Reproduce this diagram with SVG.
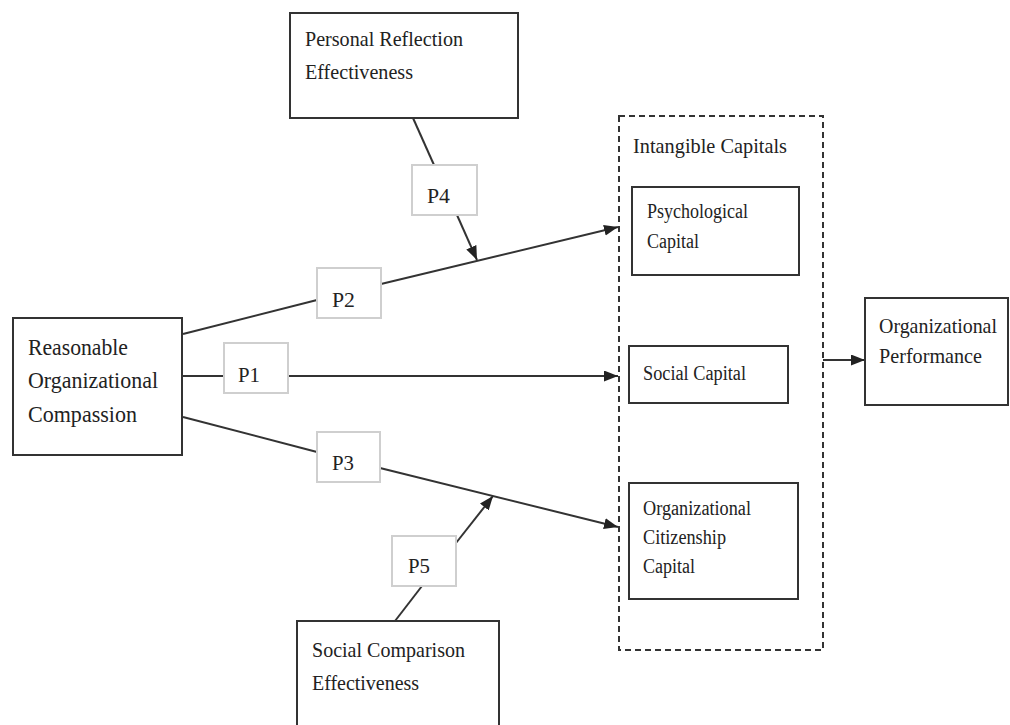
<svg xmlns="http://www.w3.org/2000/svg" width="1010" height="725" viewBox="0 0 1010 725">
  <defs>
    <marker id="arrow" markerUnits="userSpaceOnUse" markerWidth="15" markerHeight="12" refX="14" refY="5.5" orient="auto">
      <path d="M0,0 L14,5.5 L0,11 z" fill="#222"/>
    </marker>
    <style>
      .node { fill: #fff; stroke: #333; stroke-width: 2; }
      .plabel { fill: #fff; stroke: #cfcfcf; stroke-width: 2; }
      .group { fill: none; stroke: #333; stroke-width: 2; stroke-dasharray: 6 4; }
      .conn { stroke: #333; stroke-width: 2; fill: none; }
      .arr { marker-end: url(#arrow); }
      text { font-family: "Liberation Serif", "Times New Roman", serif; fill: #222; }
    </style>
  </defs>
  <rect width="1010" height="725" fill="#fff"/>

  <g id="intangible-capitals">
    <rect class="group" x="619" y="116" width="204" height="534"/>
    <text x="633" y="153" font-size="22" textLength="154" lengthAdjust="spacingAndGlyphs">Intangible Capitals</text>
  </g>

  <g id="connectors">
    <line class="conn" x1="413" y1="118" x2="434" y2="165"/>
    <line class="conn arr" x1="457" y1="215" x2="477" y2="260"/>
    <line class="conn" x1="183" y1="334" x2="317" y2="300"/>
    <line class="conn arr" x1="381" y1="284" x2="618" y2="227"/>
    <line class="conn" x1="183" y1="376" x2="224" y2="376"/>
    <line class="conn arr" x1="288" y1="376" x2="618" y2="376"/>
    <line class="conn" x1="183" y1="417" x2="317" y2="452"/>
    <line class="conn arr" x1="380" y1="468" x2="618" y2="527"/>
    <line class="conn" x1="395" y1="621" x2="422" y2="586"/>
    <line class="conn arr" x1="456" y1="543" x2="493" y2="496"/>
    <line class="conn arr" x1="823" y1="360" x2="865" y2="360"/>
  </g>

  <g id="personal-reflection">
    <rect class="node" x="290" y="13" width="228" height="105"/>
    <text x="305" y="46" font-size="22" textLength="158" lengthAdjust="spacingAndGlyphs">Personal Reflection</text>
    <text x="305" y="79" font-size="22" textLength="108" lengthAdjust="spacingAndGlyphs">Effectiveness</text>
  </g>

  <g id="reasonable-compassion">
    <rect class="node" x="13" y="318" width="169" height="137"/>
    <text x="28" y="355" font-size="24" textLength="100" lengthAdjust="spacingAndGlyphs">Reasonable</text>
    <text x="28" y="388" font-size="24" textLength="130" lengthAdjust="spacingAndGlyphs">Organizational</text>
    <text x="28" y="422" font-size="24" textLength="109" lengthAdjust="spacingAndGlyphs">Compassion</text>
  </g>

  <g id="social-comparison">
    <rect class="node" x="297" y="621" width="202" height="115"/>
    <text x="312" y="657" font-size="22" textLength="153" lengthAdjust="spacingAndGlyphs">Social Comparison</text>
    <text x="312" y="690" font-size="22" textLength="107" lengthAdjust="spacingAndGlyphs">Effectiveness</text>
  </g>

  <g id="psychological-capital">
    <rect class="node" x="632" y="187" width="167" height="88"/>
    <text x="647" y="218" font-size="20" textLength="101" lengthAdjust="spacingAndGlyphs">Psychological</text>
    <text x="647" y="248" font-size="20" textLength="52" lengthAdjust="spacingAndGlyphs">Capital</text>
  </g>

  <g id="social-capital">
    <rect class="node" x="629" y="346" width="159" height="57"/>
    <text x="643" y="380" font-size="20" textLength="103" lengthAdjust="spacingAndGlyphs">Social Capital</text>
  </g>

  <g id="citizenship-capital">
    <rect class="node" x="629" y="483" width="169" height="116"/>
    <text x="643" y="515" font-size="20" textLength="108" lengthAdjust="spacingAndGlyphs">Organizational</text>
    <text x="643" y="544" font-size="20" textLength="83" lengthAdjust="spacingAndGlyphs">Citizenship</text>
    <text x="643" y="573" font-size="20" textLength="52" lengthAdjust="spacingAndGlyphs">Capital</text>
  </g>

  <g id="organizational-performance">
    <rect class="node" x="865" y="298" width="143" height="107"/>
    <text x="879" y="333" font-size="22" textLength="118" lengthAdjust="spacingAndGlyphs">Organizational</text>
    <text x="879" y="363" font-size="22" textLength="103" lengthAdjust="spacingAndGlyphs">Performance</text>
  </g>

  <g id="p1">
    <rect class="plabel" x="224" y="343" width="64" height="50"/>
    <text x="238" y="382" font-size="22" textLength="22" lengthAdjust="spacingAndGlyphs">P1</text>
  </g>
  <g id="p2">
    <rect class="plabel" x="317" y="268" width="64" height="50"/>
    <text x="332" y="307" font-size="22" textLength="23" lengthAdjust="spacingAndGlyphs">P2</text>
  </g>
  <g id="p3">
    <rect class="plabel" x="317" y="432" width="63" height="50"/>
    <text x="332" y="470" font-size="22" textLength="22" lengthAdjust="spacingAndGlyphs">P3</text>
  </g>
  <g id="p4">
    <rect class="plabel" x="412" y="165" width="65" height="50"/>
    <text x="427" y="203" font-size="22" textLength="23" lengthAdjust="spacingAndGlyphs">P4</text>
  </g>
  <g id="p5">
    <rect class="plabel" x="392" y="536" width="64" height="50"/>
    <text x="408" y="573" font-size="22" textLength="22" lengthAdjust="spacingAndGlyphs">P5</text>
  </g>
</svg>
